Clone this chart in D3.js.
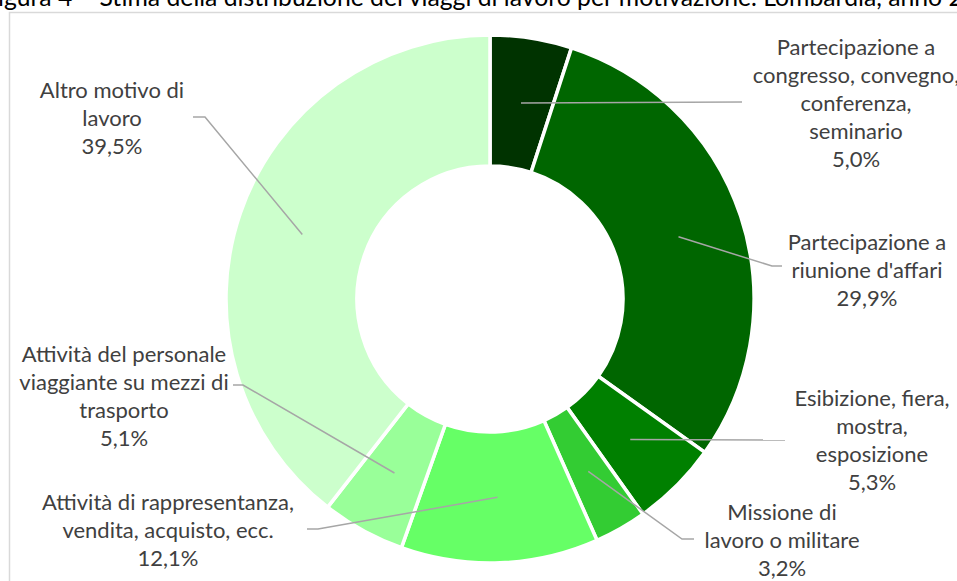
<!DOCTYPE html>
<html>
<head>
<meta charset="utf-8">
<script src="https://cdn.jsdelivr.net/npm/d3@7"></script>
<style>
  body { margin: 0; background: #fff; }
  svg { display: block; }
</style>
</head>
<body>
<script>
const w = 957;
const h = 581;

// Data (order = clockwise from 12 o'clock)
const categories = [
  ["Partecipazione a", "congresso, convegno,", "conferenza,", "seminario"],
  ["Partecipazione a", "riunione d'affari"],
  ["Esibizione, fiera,", "mostra,", "esposizione"],
  ["Missione di", "lavoro o militare"],
  ["Attività di rappresentanza,", "vendita, acquisto, ecc."],
  ["Attività del personale", "viaggiante su mezzi di", "trasporto"],
  ["Altro motivo di", "lavoro"]
];
const values = [5.0, 29.9, 5.3, 3.2, 12.1, 5.1, 39.5];
const colors = ["#003300", "#006600", "#008000", "#33cc33", "#66ff66", "#99ff99", "#ccffcc"];

// Label layout: text centre x, first line y, leader elbow, leader end x
const labelLayout = [
  { x: 856, y: 47, ex: 742, ey: 102, hx: 742 },
  { x: 867, y: 242, ex: 772, ey: 266, hx: 782 },
  { x: 872, y: 398, ex: 785, ey: 440, hx: 785 },
  { x: 782, y: 512, ex: 682, ey: 539, hx: 694 },
  { x: 168, y: 502, ex: 318, ey: 529, hx: 307 },
  { x: 124, y: 354, ex: 243, ey: 385, hx: 233 },
  { x: 112, y: 90, ex: 205, ey: 117, hx: 193 }
];

const cx = 490;
const cy = 299;
const outerR = 264;
const innerR = 133;
const lineH = 28;

const svg = d3
  .select("body")
  .append("svg")
  .attr("width", w)
  .attr("height", h);

// chart border
svg
  .append("rect")
  .attr("x", 9.5)
  .attr("y", 12.5)
  .attr("width", 960)
  .attr("height", 600)
  .attr("fill", "none")
  .attr("stroke", "#d9d9d9")
  .attr("stroke-width", 1.5);

// title (cut off at the top of the picture)
svg
  .append("text")
  .attr("x", -16)
  .attr("y", 6)
  .attr("font-family", "Lato, 'Open Sans', sans-serif")
  .attr("font-size", 24.75)
  .attr("fill", "#000")
  .text("Figura 4 – Stima della distribuzione dei viaggi di lavoro per motivazione. Lombardia, anno 2019");

const pie = d3.pie().sort(null).value((d) => d);
const arcs = pie(values);

const arc = d3.arc().innerRadius(innerR).outerRadius(outerR);

const g = svg.append("g").attr("transform", `translate(${cx},${cy})`);

g.selectAll("path")
  .data(arcs)
  .enter()
  .append("path")
  .attr("d", arc)
  .attr("fill", (d, i) => colors[i])
  .attr("stroke", "#fff")
  .attr("stroke-width", 3.5)
  .attr("stroke-linejoin", "miter");

// leader lines: from slice centroid to label
const fmt = (v) => d3.format(".1f")(v).replace(".", ",") + "%";

arcs.forEach(function (d, i) {
  const c = arc.centroid(d);
  const L = labelLayout[i];
  const pts = [
    [cx + c[0], cy + c[1]],
    [L.ex, L.ey],
    [L.hx, L.ey]
  ];
  svg
    .append("path")
    .attr("d", d3.line()(pts))
    .attr("fill", "none")
    .attr("stroke", "#a6a6a6")
    .attr("stroke-width", 1.5);

  const lines = categories[i].concat([fmt(values[i])]);
  const t = svg
    .append("text")
    .attr("text-anchor", "middle")
    .attr("font-family", "Lato, 'Open Sans', sans-serif")
    .attr("font-size", 22)
    .attr("fill", "#404040");
  lines.forEach(function (s, k) {
    t.append("tspan")
      .attr("x", L.x)
      .attr("y", L.y + k * lineH)
      .attr("dy", "0.35em")
      .text(s);
  });
});
</script>
</body>
</html>
